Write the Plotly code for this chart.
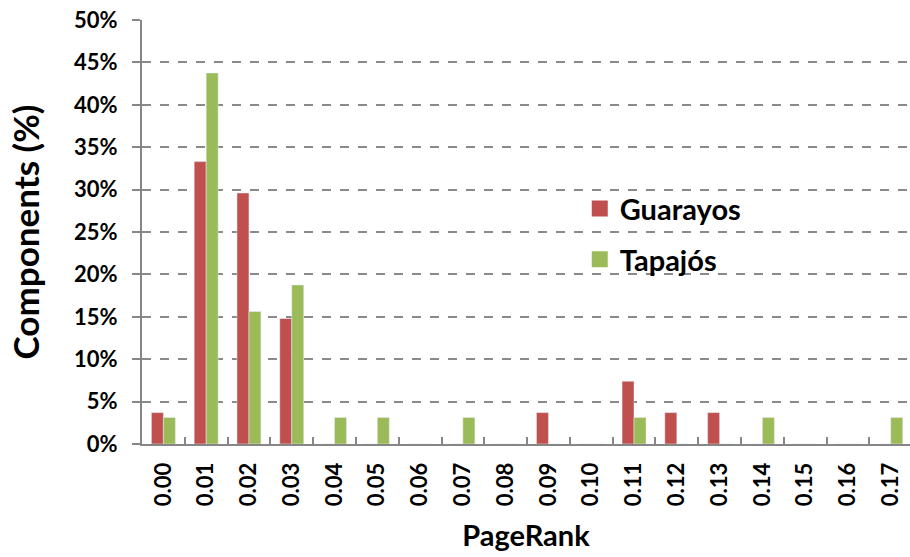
import plotly.graph_objects as go

categories = ["0.00", "0.01", "0.02", "0.03", "0.04", "0.05", "0.06", "0.07", "0.08",
              "0.09", "0.10", "0.11", "0.12", "0.13", "0.14", "0.15", "0.16", "0.17"]
guarayos = [3.7, 33.3, 29.6, 14.8, 0, 0, 0, 0, 0, 3.7, 0, 7.4, 3.7, 3.7, 0, 0, 0, 0]
tapajos = [3.125, 43.75, 15.625, 18.75, 3.125, 3.125, 0, 3.125, 0, 0, 0, 3.125, 0, 0, 3.125, 0, 0, 3.125]
y_ticks = [0, 5, 10, 15, 20, 25, 30, 35, 40, 45, 50]
y_labels = [f"{v}%" for v in y_ticks]

RED = "#C0504D"
GREEN = "#9BBB59"
FONT = "Lato"

fig = go.Figure()
fig.add_trace(go.Bar(x=categories, y=guarayos, name="Guarayos", marker_color=RED, showlegend=False))
fig.add_trace(go.Bar(x=categories, y=tapajos, name="Tapajós", marker_color=GREEN, showlegend=False))
# legend entries with larger square swatches
fig.add_trace(go.Scatter(x=[None], y=[None], mode="markers", name="Guarayos", legendgroup="g",
                         marker=dict(symbol="square", size=18, color=RED)))
fig.add_trace(go.Scatter(x=[None], y=[None], mode="markers", name="Tapajós", legendgroup="t",
                         marker=dict(symbol="square", size=18, color=GREEN)))

fig.update_layout(
    width=910, height=557,
    margin=dict(l=142, r=0, t=20, b=113, autoexpand=False),
    plot_bgcolor="white", paper_bgcolor="white",
    barmode="group", bargap=0.44, bargroupgap=0,
    font=dict(family=FONT, color="black"),
    legend=dict(x=0.570, y=0.615, xanchor="left", yanchor="top",
                font=dict(size=29, family=FONT, color="black", weight="bold"),
                bgcolor="rgba(0,0,0,0)", itemsizing="trace", itemwidth=30,
                tracegroupgap=10),
    xaxis=dict(
        type="category", range=[-0.5, 17.45],
        showline=True, linecolor="#868686", linewidth=2,
        ticks="inside", tickson="boundaries", ticklen=7, tickcolor="#868686", tickwidth=2,
        tickangle=-90, tickfont=dict(size=22, family=FONT, weight="bold"),
        ticklabelstandoff=8,
        title=dict(text="PageRank", font=dict(size=29, family=FONT, weight="bold"), standoff=20),
    ),
    yaxis=dict(
        range=[0, 50], tickvals=y_ticks, ticktext=y_labels,
        showline=True, linecolor="#868686", linewidth=2,
        ticks="outside", ticklen=8, tickcolor="#868686", tickwidth=2,
        showgrid=True, gridcolor="#8a8a8a", griddash="dash", gridwidth=1.5,
        tickfont=dict(size=22, family=FONT, weight="bold"),
        ticklabelstandoff=10,
        zeroline=False,
        title=dict(text="Components (%)", font=dict(size=35, family=FONT, weight="bold"), standoff=24),
    ),
)

fig.write_html("out.html", config={"displayModeBar": False},
               post_script="document.body.style.margin='0';")
